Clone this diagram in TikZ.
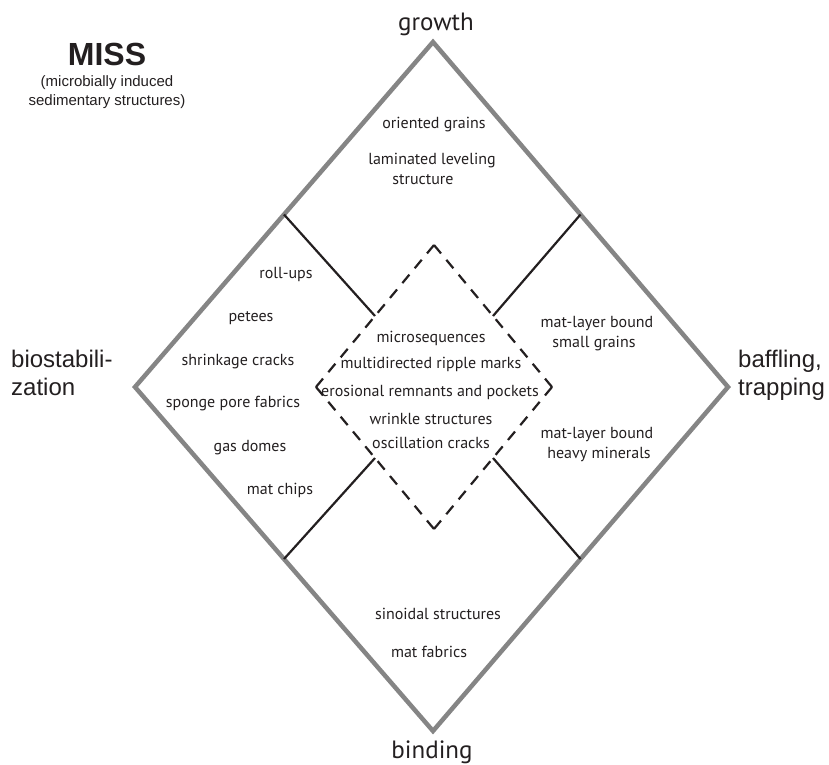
\documentclass[tikz,border=0pt]{standalone}
\usepackage{fontspec}
\setmainfont{PT Sans}
\newfontfamily\hv{Liberation Sans}
\usetikzlibrary{calc}
\definecolor{outergray}{HTML}{858585}
\definecolor{ink}{HTML}{231F20}
\begin{document}
\begin{tikzpicture}[x=1pt,y=-1pt,
  outer/.style={draw=outergray,line width=4.5pt,line join=miter},
  inner/.style={draw=ink,line width=2.2pt,dash pattern=on 11pt off 8.3pt},
  link/.style={draw=ink,line width=2.2pt},
  lbl/.style={font=\fontsize{16}{19}\selectfont,text=ink,anchor=base,inner sep=0pt},
  big/.style={font=\fontsize{25}{28}\selectfont,text=ink,anchor=base,inner sep=0pt},
  side/.style={font=\hv\fontsize{24}{28}\selectfont,text=ink,anchor=base west,inner sep=0pt},
  sub/.style={font=\hv\fontsize{15}{18}\selectfont,text=ink,anchor=base,inner sep=0pt}]
\useasboundingbox (0,0) rectangle (829,764);
% outer diamond
\coordinate (T) at (433,42);
\coordinate (R) at (728,387);
\coordinate (B) at (433,731);
\coordinate (L) at (135,387);
% inner diamond
\coordinate (t) at (434,245);
\coordinate (r) at (552,387);
\coordinate (b) at (434,529);
\coordinate (l) at (316,387);
% midpoints
\coordinate (TL) at ($(T)!0.5!(L)$);
\coordinate (TR) at ($(T)!0.5!(R)$);
\coordinate (BL) at ($(B)!0.5!(L)$);
\coordinate (BR) at ($(B)!0.5!(R)$);
\coordinate (tl) at ($(t)!0.5!(l)$);
\coordinate (tr) at ($(t)!0.5!(r)$);
\coordinate (bl) at ($(b)!0.5!(l)$);
\coordinate (br) at ($(b)!0.5!(r)$);
\draw[outer] (T) -- (R) -- (B) -- (L) -- cycle;
\draw[inner] (t) -- (r);
\draw[inner] (r) -- (b);
\draw[inner] (b) -- (l);
\draw[inner] (l) -- (t);
\draw[link] (TL) -- (tl);
\draw[link] (TR) -- (tr);
\draw[link] (BL) -- (bl);
\draw[link] (BR) -- (br);
% title
\node[font=\hv\bfseries\fontsize{32}{36}\selectfont,text=ink,anchor=base,inner sep=0pt] (miss) at (107,65) {MISS};
\node[sub] (miss1) at (107,86) {(microbially induced};
\node[sub] (miss2) at (107,105) {sedimentary structures)};
% corner labels
\node[big] (growth) at (436,30) {growth};
\node[big] (binding) at (432,758) {binding};
\node[side] (bio1) at (11,367) {biostabili-};
\node[side] (bio2) at (11,395) {zation};
\node[side] (baf1) at (738,367) {baffling,};
\node[side] (baf2) at (738,395) {trapping};
% top
\node[lbl] (g1) at (434,128) {oriented grains};
\node[lbl] (g2) at (432,164) {laminated leveling};
\node[lbl] (g3) at (423,184) {structure};
% left
\node[lbl] (l1) at (286,278) {roll-ups};
\node[lbl] (l2) at (251,321) {petees};
\node[lbl] (l3) at (238,365) {shrinkage cracks};
\node[lbl] (l4) at (233,407) {sponge pore fabrics};
\node[lbl] (l5) at (250,451) {gas domes};
\node[lbl] (l6) at (280,494) {mat chips};
% center
\node[lbl] (c1) at (431,342) {microsequences};
\node[lbl] (c2) at (431,368) {multidirected ripple marks};
\node[lbl] (c3) at (430,396) {erosional remnants and pockets};
\node[lbl] (c4) at (431,424) {wrinkle structures};
\node[lbl] (c5) at (431,448) {oscillation cracks};
% right
\node[lbl] (r1) at (597,327) {mat-layer bound};
\node[lbl] (r2) at (594,347) {small grains};
\node[lbl] (r3) at (597,438) {mat-layer bound};
\node[lbl] (r4) at (599,458) {heavy minerals};
% bottom
\node[lbl] (b1) at (438,619) {sinoidal structures};
\node[lbl] (b2) at (429,657) {mat fabrics};
\end{tikzpicture}
\end{document}
